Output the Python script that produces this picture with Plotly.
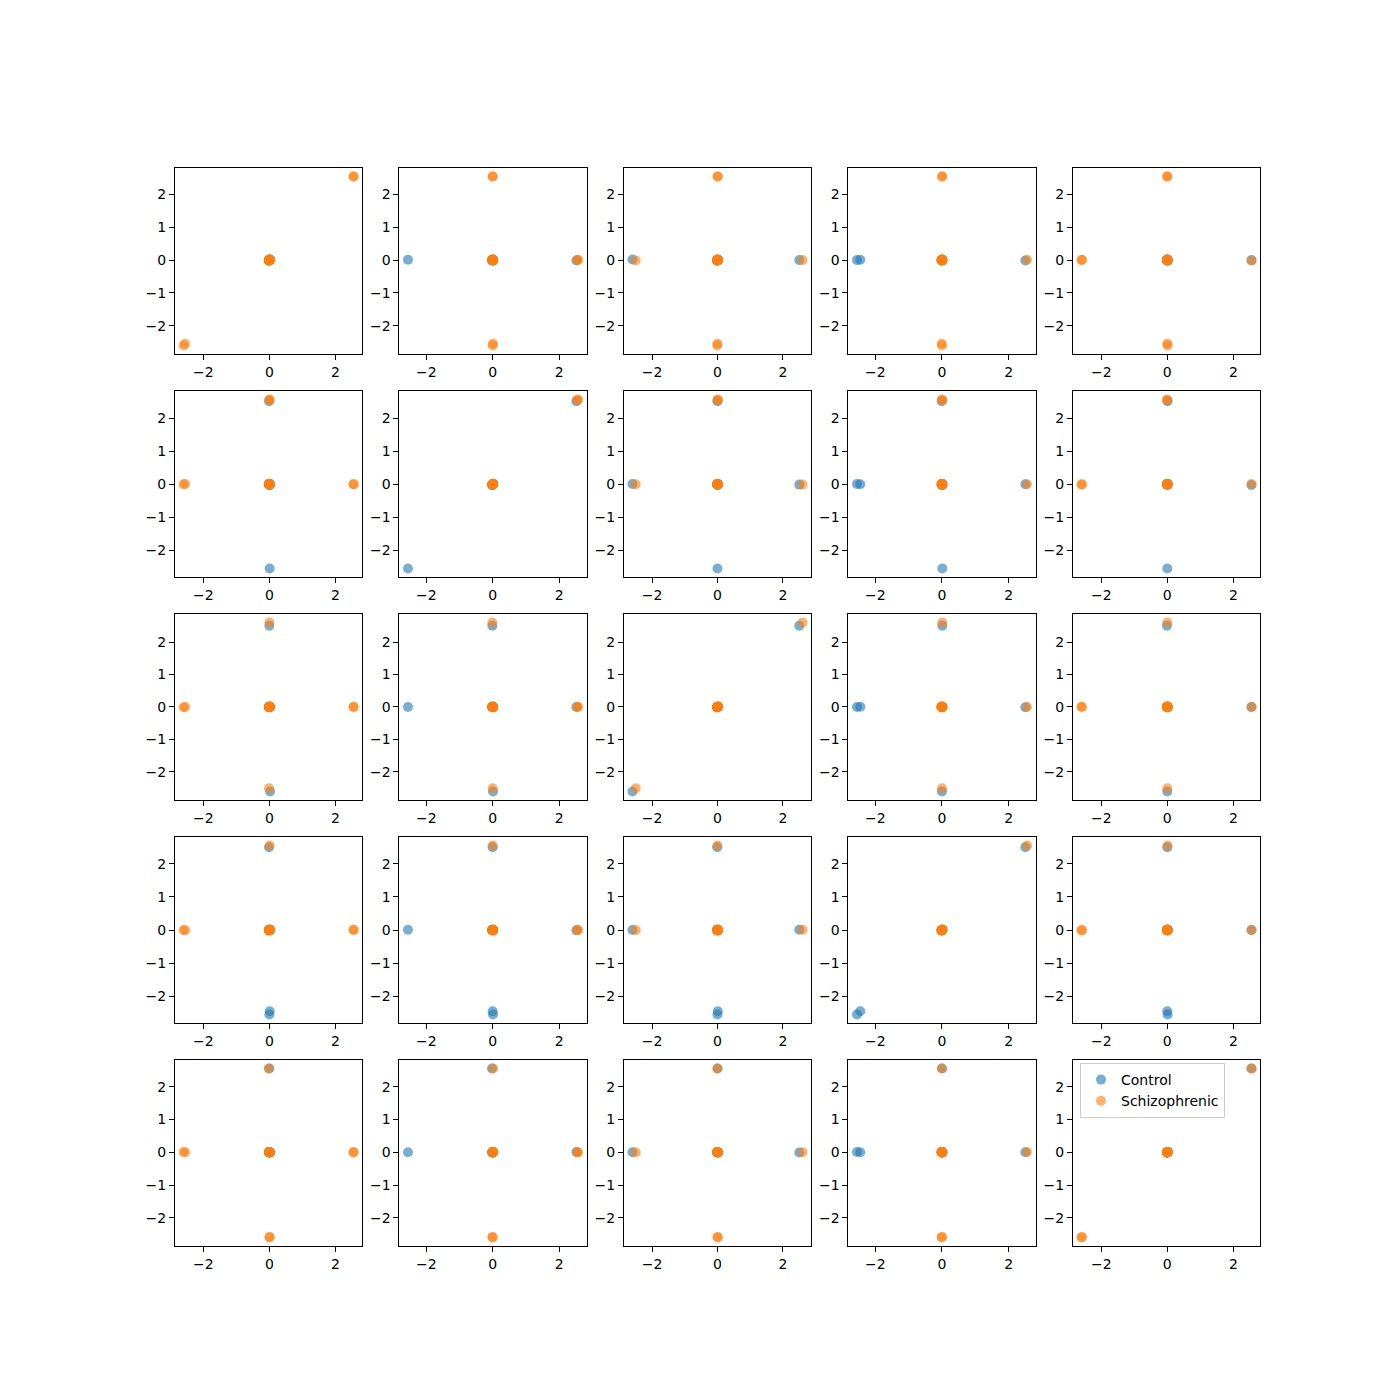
import plotly.graph_objects as go

# ---- data: 5 standardized variables, one value per sample ----
group_names = ["Control", "Schizophrenic"]
group_colors = ["#1f77b4", "#ff7f0e"]

control_v0 = [0.01, -0.01, 0.02, 0.00, 0.01, 0.00, -0.01, 0.00, 0.00, 0.01, -0.01, 0.00]
control_v1 = [-2.55, 2.52, 0.01, -0.01, 0.00, 0.01, 0.00, -0.02, 0.00, -0.01, 0.01, 0.00]
control_v2 = [0.00, 0.00, -2.60, 2.50, 0.01, 0.00, -0.01, 0.00, 0.00, 0.01, 0.00, -0.01]
control_v3 = [0.01, -0.01, 0.00, 0.01, -2.45, -2.55, 2.50, 0.00, -0.01, 0.00, 0.01, 0.00]
control_v4 = [0.00, 0.01, 0.00, -0.01, 0.00, 0.01, 0.00, 2.55, 0.00, -0.01, 0.00, 0.01]

schizo_v0 = [2.55, 2.55, -2.55, -2.60, 0.00, 0.01, -0.01, 0.00, 0.01, -0.02, 0.00, 0.01, 0.00, -0.01, 0.00, 0.02, 0.00, 0.01]
schizo_v1 = [0.00, 0.00, 0.01, 0.00, 2.55, 2.57, 0.00, -0.01, 0.00, 0.01, 0.00, -0.01, 0.00, 0.01, -0.01, 0.00, 0.02, 0.00]
schizo_v2 = [0.01, 0.00, 0.00, -0.01, 0.00, 0.01, -2.50, 2.60, 0.00, 0.00, 0.01, 0.00, -0.01, 0.00, 0.01, 0.00, -0.01, 0.02]
schizo_v3 = [0.00, 0.01, -0.01, 0.00, 0.01, 0.00, 0.00, 0.01, 2.55, 0.00, -0.01, 0.00, 0.01, -0.02, 0.00, 0.01, 0.00, -0.01]
schizo_v4 = [-0.01, 0.01, 0.00, 0.01, 0.00, -0.01, 0.00, 0.00, 0.01, 2.55, -2.60, -2.58, 0.00, 0.01, 0.00, -0.01, 0.01, 0.00]

x_tick_vals = [-2, 0, 2]
x_tick_text = ["\u22122", "0", "2"]
y_tick_vals = [-2, -1, 0, 1, 2]
y_tick_text = ["\u22122", "\u22121", "0", "1", "2"]

groups = [
    [control_v0, control_v1, control_v2, control_v3, control_v4],
    [schizo_v0, schizo_v1, schizo_v2, schizo_v3, schizo_v4],
]
n_vars = 5

# ---- layout geometry (matplotlib default subplot params) ----
W = H = 1400
left, right, bottom, top = 0.125, 0.9, 0.11, 0.88
wspace = hspace = 0.2
pw = (right - left) / (n_vars + (n_vars - 1) * wspace)
ph = (top - bottom) / (n_vars + (n_vars - 1) * hspace)

fig = go.Figure()
layout = {}
font = dict(family="DejaVu Sans", size=14, color="black")

def var_range(v):
    vals = groups[0][v] + groups[1][v]
    lo, hi = min(vals), max(vals)
    pad = 0.05 * (hi - lo)
    return [lo - pad, hi + pad]

for r in range(n_vars):
    for c in range(n_vars):
        k = r * n_vars + c + 1
        suffix = "" if k == 1 else str(k)
        for g in range(2):
            fig.add_trace(go.Scatter(
                x=groups[g][c], y=groups[g][r], mode="markers",
                name=group_names[g], legendgroup=group_names[g],
                showlegend=(k == 1),
                marker=dict(color=group_colors[g], size=10, opacity=0.6, line=dict(width=0)),
                xaxis="x" + suffix, yaxis="y" + suffix,
            ))
        x0 = left + c * pw * (1 + wspace)
        y1 = top - r * ph * (1 + hspace)
        common = dict(showline=True, mirror=True, linecolor="black", linewidth=1,
                      ticks="outside", ticklen=5, tickwidth=1, tickcolor="black",
                      showgrid=False, zeroline=False, tickfont=font)
        layout["xaxis" + suffix] = dict(domain=[x0, x0 + pw], anchor="y" + suffix,
                                        range=var_range(c), tickvals=x_tick_vals,
                                        ticktext=x_tick_text, **common)
        layout["yaxis" + suffix] = dict(domain=[y1 - ph, y1], anchor="x" + suffix,
                                        range=var_range(r), tickvals=y_tick_vals,
                                        ticktext=y_tick_text, **common)

fig.update_layout(
    width=W, height=H, margin=dict(l=0, r=0, t=0, b=0),
    paper_bgcolor="white", plot_bgcolor="white", font=font,
    legend=dict(x=1080 / W, y=1 - 1063 / H, xanchor="left", yanchor="top",
                bgcolor="rgba(255,255,255,0.8)", bordercolor="#cccccc", borderwidth=1,
                font=dict(family="DejaVu Sans", size=14, color="black"),
                tracegroupgap=0),
    **layout,
)

fig.write_html("out.html")
